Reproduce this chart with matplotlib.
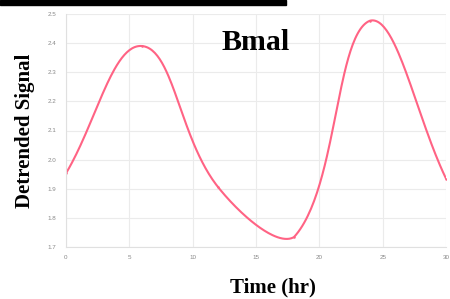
import numpy as np
import matplotlib.pyplot as plt
from matplotlib.patches import Rectangle

# Data
hours = [0, 6, 12, 18, 24, 30]
signal = [1.953, 2.390, 1.906, 1.734, 2.477, 1.935]
x_ticks = [0, 5, 10, 15, 20, 25, 30]
y_ticks = [1.7, 1.8, 1.9, 2.0, 2.1, 2.2, 2.3, 2.4, 2.5]
x_range = (0, 30)
y_range = (1.7, 2.5)

line_color = '#ff6384'


def spline_path(xs, ys, sx, sy, tension=0.4, n=60):
    # bezier smoothing in the style of chart.js (distances in pixel space,
    # control points kept inside the plot area)
    px = np.array(xs, float) * sx
    py = np.array(ys, float) * sy
    lo = np.array([x_range[0] * sx, y_range[0] * sy])
    hi = np.array([x_range[1] * sx, y_range[1] * sy])
    k = len(px)
    cp_prev = np.zeros((k, 2))
    cp_next = np.zeros((k, 2))
    for i in range(k):
        p = np.array([px[i], py[i]])
        a = np.array([px[max(i - 1, 0)], py[max(i - 1, 0)]])
        b = np.array([px[min(i + 1, k - 1)], py[min(i + 1, k - 1)]])
        d01 = np.hypot(*(p - a))
        d12 = np.hypot(*(b - p))
        tot = d01 + d12 if d01 + d12 > 0 else 1
        fa = tension * d01 / tot
        fb = tension * d12 / tot
        cp_prev[i] = np.clip(p - fa * (b - a), lo, hi)
        cp_next[i] = np.clip(p + fb * (b - a), lo, hi)
    out_x, out_y = [], []
    t = np.linspace(0, 1, n)[:, None]
    for i in range(k - 1):
        p0 = np.array([px[i], py[i]])
        p3 = np.array([px[i + 1], py[i + 1]])
        p1, p2 = cp_next[i], cp_prev[i + 1]
        seg = (1 - t) ** 3 * p0 + 3 * (1 - t) ** 2 * t * p1 + 3 * (1 - t) * t ** 2 * p2 + t ** 3 * p3
        out_x.extend(seg[:, 0] / sx)
        out_y.extend(seg[:, 1] / sy)
    return np.array(out_x), np.array(out_y)


fig = plt.figure(figsize=(4.5, 2.99), dpi=100)
ax = fig.add_axes([66 / 450, 1 - 247 / 299, 380 / 450, 233 / 299])

cx, cy = spline_path(hours, signal, 380 / 30, 233 / 0.8)
ax.plot(cx, cy, color=line_color, lw=1.5, solid_capstyle='round', solid_joinstyle='round')
ax.plot(hours, signal, 'o', color=line_color, ms=1.8, mew=0)

ax.set_xlim(*x_range)
ax.set_ylim(*y_range)
ax.set_xticks(x_ticks)
ax.set_yticks(y_ticks)
ax.set_yticklabels([f'{v:.1f}' for v in y_ticks])
ax.grid(True, color='#ebebeb', lw=0.8)
ax.set_axisbelow(True)
for s in ['top', 'right']:
    ax.spines[s].set_visible(False)
for s in ['left', 'bottom']:
    ax.spines[s].set_color('#e0e0e0')
    ax.spines[s].set_linewidth(0.8)
ax.tick_params(axis='both', length=0, labelsize=4.5, labelcolor='#888888',
               labelfontfamily='Liberation Sans')
ax.tick_params(axis='y', pad=7)
ax.tick_params(axis='x', pad=6)

serif = {'family': 'Liberation Serif', 'weight': 'bold'}
fig.text(256 / 450, 1 - 42 / 299, 'Bmal', ha='center', va='center', fontsize=21.5, **serif)
fig.text(25 / 450, 1 - 131 / 299, 'Detrended Signal', ha='center', va='center',
         rotation=90, fontsize=15, **serif)
fig.text(273 / 450, 1 - 287 / 299, 'Time (hr)', ha='center', va='center', fontsize=15, **serif)

# black strip along the top edge
fig.patches.append(Rectangle((0, 1 - 5 / 299), 286 / 450, 5 / 299, transform=fig.transFigure,
                             color='black', zorder=10))

plt.savefig('out.png', dpi=100)
